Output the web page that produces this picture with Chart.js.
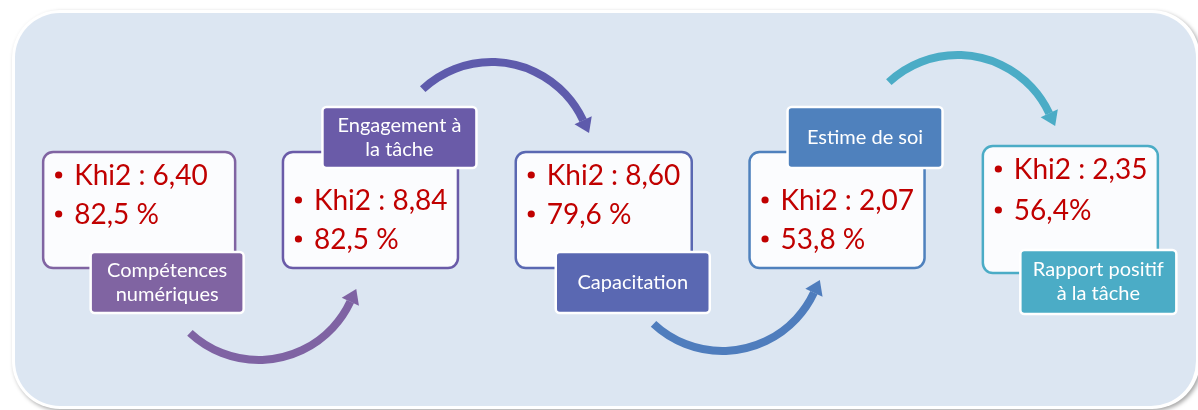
<!DOCTYPE html>
<html><head><meta charset="utf-8">
<script src="https://cdn.jsdelivr.net/npm/chart.js@4"></script>
<style>html,body{margin:0;padding:0;background:#fff;} canvas{display:block;}</style>
</head><body>
<canvas id="c" width="1198" height="410"></canvas>
<script>
// ---- data ----
const categories = [['Compétences','numériques'],['Engagement à','la tâche'],['Capacitation'],['Estime de soi'],['Rapport positif','à la tâche']];
const khi2 = [6.40, 8.84, 8.60, 2.07, 2.35];
const pct = [82.5, 82.5, 79.6, 53.8, 56.4];
const pctSep = [' ', ' ', ' ', ' ', ''];
const colors = ['#8064a2','#6a5ba8','#5a68b2','#4f81bd','#4bacc6'];
const arrowColors = ['#7f63a3','#5e5bac','#4f7dbd','#4bacc6'];

// ---- layout (geometry / style only) ----
const boxGeom = [
  {dx:2, w:192, top:152, h:116, b1:33, b2:72},
  {dx:0, w:175, top:152, h:116, b1:58, b2:97},
  {dx:0, w:176, top:152, h:116, b1:33, b2:72},
  {dx:0, w:175, top:152, h:116, b1:58, b2:97},
  {dx:0, w:175, top:146, h:127, b1:33, b2:74}
];
const labelGeom = [
  {dx:30, w:153, top:252, h:61},
  {dx:29, w:154, top:107, h:61},
  {dx:29, w:154, top:252, h:61},
  {dx:28, w:155, top:107, h:61},
  {dx:28, w:156, top:250, h:64}
];
const arrowGeom = [
  {dcx:5, cy:259, dir:1},
  {dcx:4.5, cy:163, dir:-1},
  {dcx:2, cy:250, dir:1},
  {dcx:4, cy:156, dir:-1}
];

function fmt(v, d){ return v.toFixed(d).replace('.', ','); }

const diagram = {
  id: 'diagram',
  beforeDraw(chart){
    const ctx = chart.ctx;
    ctx.save();
    ctx.shadowColor = 'rgba(0,0,0,0.35)';
    ctx.shadowBlur = 4; ctx.shadowOffsetX = 2; ctx.shadowOffsetY = 2;
    ctx.fillStyle = '#ffffff';
    ctx.beginPath(); ctx.roundRect(12, 10, 1188, 399, 48); ctx.fill();
    ctx.restore();
    ctx.save();
    ctx.fillStyle = '#dce6f2';
    ctx.beginPath(); ctx.roundRect(15, 13, 1181, 393, 45); ctx.fill();
    ctx.restore();
  },
  afterDatasetsDraw(chart){
    const ctx = chart.ctx;
    const xs = chart.scales.x;
    const cx = i => xs.getPixelForValue(i);
    ctx.save();
    // arrows
    arrowGeom.forEach((a, i) => {
      const mid = (cx(i) + cx(i+1)) / 2;
      const X = mid + a.dcx, Y = a.cy, r = 101, d = a.dir;
      const tail = d * (133) * Math.PI/180;
      const end = d * 25 * Math.PI/180;
      ctx.strokeStyle = arrowColors[i];
      ctx.fillStyle = arrowColors[i];
      ctx.lineWidth = 8; ctx.lineCap = 'butt';
      ctx.beginPath();
      ctx.arc(X, Y, r, tail, end, d === 1);
      ctx.stroke();
      const px = X + r*Math.cos(end), py = Y + r*Math.sin(end);
      const tx = d*Math.sin(end), ty = -d*Math.cos(end);
      const nx = -ty, ny = tx;
      ctx.beginPath();
      ctx.moveTo(px + tx*14, py + ty*14);
      ctx.lineTo(px + nx*9.5, py + ny*9.5);
      ctx.lineTo(px - nx*9.5, py - ny*9.5);
      ctx.closePath(); ctx.fill();
    });
    // boxes
    categories.forEach((cat, i) => {
      const g = boxGeom[i];
      const left = cx(i) + g.dx - g.w/2;
      ctx.fillStyle = '#fbfcfe';
      ctx.strokeStyle = colors[i];
      ctx.lineWidth = 2.5;
      ctx.beginPath(); ctx.roundRect(left, g.top, g.w, g.h, 10); ctx.fill(); ctx.stroke();
      const lines = ['Khi2 : ' + fmt(khi2[i], 2), fmt(pct[i], 1) + pctSep[i] + '%'];
      ctx.fillStyle = '#c00000';
      ctx.font = '28px Lato';
      ctx.textAlign = 'left'; ctx.textBaseline = 'alphabetic';
      [g.b1, g.b2].forEach((b, k) => {
        const by = g.top + b;
        ctx.beginPath(); ctx.arc(left + 15.5, by - 10, 3.6, 0, Math.PI*2); ctx.fill();
        ctx.fillText(lines[k], left + 31, by);
      });
      // label
      const L = labelGeom[i];
      const lc = cx(i) + L.dx;
      ctx.fillStyle = colors[i];
      ctx.strokeStyle = '#ffffff';
      ctx.lineWidth = 2.5;
      ctx.beginPath(); ctx.roundRect(lc - L.w/2, L.top, L.w, L.h, 4); ctx.fill(); ctx.stroke();
      ctx.fillStyle = '#ffffff';
      ctx.font = '20px Lato';
      ctx.textAlign = 'center'; ctx.textBaseline = 'middle';
      const my = L.top + L.h/2;
      const n = cat.length;
      cat.forEach((t, k) => {
        ctx.fillText(t, lc, my + (k - (n-1)/2) * 24);
      });
    });
    ctx.restore();
  }
};

new Chart(document.getElementById('c'), {
  type: 'bar',
  data: {
    labels: categories.map(c => c.join(' ')),
    datasets: [{ data: khi2, backgroundColor: 'rgba(0,0,0,0)', borderWidth: 0 }]
  },
  options: {
    responsive: false,
    animation: false,
    devicePixelRatio: 1,
    events: [],
    layout: { padding: { left: 20.5, right: 11, top: 0, bottom: 0 } },
    plugins: { legend: { display: false }, tooltip: { enabled: false } },
    scales: {
      x: { display: false, offset: true },
      y: { display: false, min: 0, max: 10 }
    }
  },
  plugins: [diagram]
});
</script>
</body></html>
